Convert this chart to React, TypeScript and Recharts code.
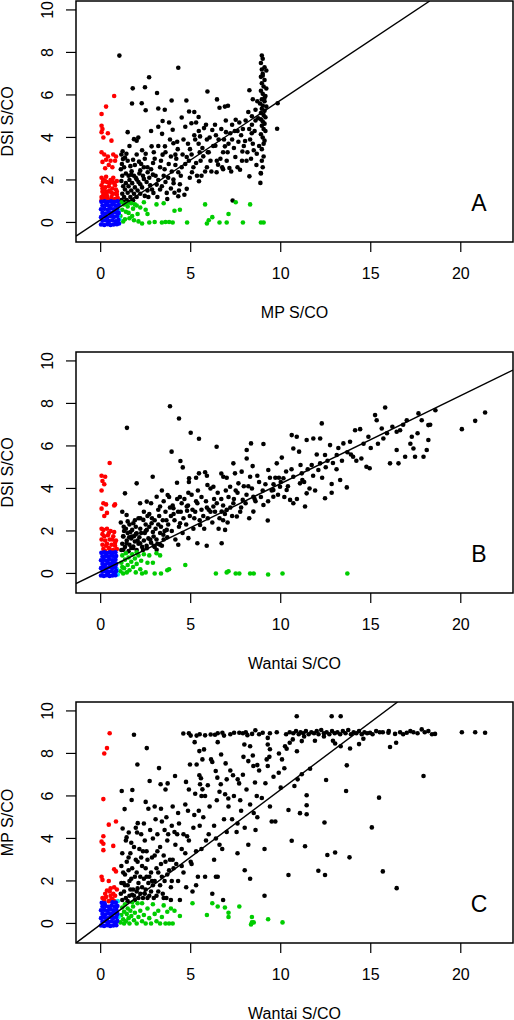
import React from "react";
import {
  ScatterChart,
  Scatter,
  XAxis,
  YAxis,
  ReferenceArea,
} from "recharts";

type Pair = [number, number];

// axis ranges and ticks (R style: 4% padding around xlim / ylim)
const X_DOMAIN: [number, number] = [-1.37, 22.9];
const Y_DOMAIN: [number, number] = [-0.92, 10.42];
const X_TICKS = [0, 5, 10, 15, 20];
const Y_TICKS = [0, 2, 4, 6, 8, 10];

const COLORS = {
  black: "#000000",
  red: "#ff0000",
  blue: "#0000ff",
  green: "#00cd00",
  cyan: "#00e5ee",
};

// ---------- panel A: MP vs DSI ----------
const aBlack: Pair[] = [
  [1.04, 7.85], [4.31, 7.28], [2.69, 6.83], [2.46, 6.36], [1.78, 6.31], [3.13, 6.09], [5.93, 6.16],
  [8.26, 6.22], [3.94, 5.74], [4.76, 5.74], [6.46, 5.79], [2.28, 5.61], [1.74, 5.6], [4.91, 5.22],
  [7.07, 5.49], [6.9, 5.45], [3.2, 5.36], [3.56, 5.3], [2.5, 5.28], [5.44, 4.96], [4.5, 4.94],
  [5.2, 5.2], [6.6, 5.4], [3.44, 4.77], [5.04, 4.67], [5.3, 4.7], [7.5, 4.83], [7.3, 4.6], [7.7, 4.7],
  [5.74, 4.44], [4.0, 4.36], [1.5, 4.25], [6.96, 4.25], [6.2, 4.35], [6.4, 4.1], [2.09, 4.0],
  [2.0, 3.85], [3.41, 4.17], [8.39, 4.2], [8.3, 3.9], [8.02, 3.83], [4.04, 3.73], [5.44, 3.7],
  [1.85, 3.92], [2.83, 3.58], [3.57, 3.58], [4.28, 3.45], [4.96, 3.45], [6.37, 3.61], [6.9, 3.58],
  [7.1, 3.7], [1.43, 3.23], [1.35, 3.05], [2.5, 3.23], [3.44, 3.19], [4.15, 3.19], [4.78, 3.08],
  [5.7, 3.11], [7.48, 3.08], [8.67, 3.23], [8.5, 3.4], [7.87, 3.34], [6.0, 3.3], [6.65, 3.0],
  [2.13, 2.86], [2.91, 2.8], [3.78, 2.75], [5.3, 2.8], [6.52, 2.72], [7.15, 2.56], [7.74, 2.48],
  [1.24, 2.98], [1.72, 2.41], [2.61, 2.36], [4.31, 2.36], [5.07, 2.36], [6.44, 2.36], [6.8, 2.5],
  [5.46, 1.94], [5.6, 2.2], [8.26, 2.17], [8.89, 2.33], [8.87, 1.86], [4.31, 1.23], [3.67, 1.39],
  [2.93, 1.39], [4.78, 1.58], [3.11, 1.78], [4.04, 2.02], [2.0, 2.02], [7.33, 1.03], [9.8, 4.41],
  [9.83, 5.61], [5.52, 4.05], [5.9, 3.9], [4.6, 3.9], [3.9, 3.1], [3.3, 2.6], [2.7, 2.1], [2.2, 1.8],
  [3.5, 2.2], [4.5, 2.6], [4.9, 2.9], [5.9, 2.6], [6.1, 2.9], [3.0, 3.0], [2.4, 2.6], [1.9, 2.7],
  [2.75, 1.75], [3.3, 1.55], [3.9, 1.6], [4.4, 1.8], [4.1, 1.4], [3.6, 1.9], [4.2, 3.0], [5.5, 3.3],
  [7.3, 3.9], [7.9, 4.4], [8.4, 4.6], [8.2, 5.2], [7.6, 4.3], [6.8, 3.3], [8.1, 2.9], [7.0, 2.9],
  [5.2, 4.1], [4.7, 4.5], [3.8, 4.7], [3.2, 4.5], [2.8, 4.3], [2.3, 3.4], [1.6, 3.6], [8.4, 5.0],
  [8.6, 4.8],
  [1.12, 2.5], [1.18, 2.75], [1.15, 3.2], [1.22, 3.35], [1.3, 2.6], [1.5, 2.9], [1.55, 2.2],
  [1.65, 2.65], [1.8, 2.95], [1.85, 2.2], [2.0, 3.2], [2.15, 2.3], [2.25, 2.75], [2.4, 2.05],
  [2.45, 3.0], [2.6, 2.6], [2.65, 1.2], [2.8, 2.5], [2.85, 1.55], [2.95, 3.3], [3.05, 2.2],
  [3.15, 1.2], [3.2, 3.6], [3.35, 2.9], [3.4, 1.7], [3.55, 2.5], [3.6, 3.3], [3.7, 1.1], [3.75, 2.1],
  [3.85, 3.9], [3.95, 2.4], [4.05, 1.85], [4.15, 2.7], [4.25, 3.8], [4.35, 1.5], [4.45, 2.2],
  [4.55, 3.2], [4.65, 1.3], [4.7, 2.75], [4.85, 3.7], [4.95, 2.1], [5.05, 3.2], [5.15, 2.6],
  [5.25, 3.9], [5.35, 2.2], [5.45, 4.3], [5.55, 2.9], [5.65, 3.5], [5.8, 2.4], [5.85, 4.6],
  [5.95, 3.3], [6.05, 4.0], [6.15, 2.4], [6.25, 3.6], [6.35, 4.6], [6.45, 2.9], [6.55, 3.9],
  [6.7, 4.4], [6.75, 2.6], [6.85, 3.9], [6.95, 4.8], [7.05, 3.3], [7.2, 4.2], [7.25, 2.4], [7.4, 3.5],
  [7.45, 4.3], [7.6, 2.6], [7.65, 3.8], [7.8, 4.1], [7.85, 2.9], [7.95, 3.6], [8.05, 4.8], [8.15, 3.3],
  [8.25, 4.4], [8.35, 3.0], [8.45, 3.7], [8.55, 4.3], [8.65, 2.7], [8.75, 4.9], [8.8, 3.6], [8.7, 5.7],
  [8.6, 5.3], [8.45, 5.8],
  // dense block just above 1
  [1.15, 1.05], [1.2, 1.35], [1.25, 1.7], [1.15, 1.95], [1.3, 1.2], [1.35, 1.55], [1.4, 1.85],
  [1.45, 1.05], [1.5, 1.4], [1.55, 1.7], [1.6, 2.0], [1.65, 1.2], [1.7, 1.5], [1.75, 1.85],
  [1.8, 1.05], [1.85, 1.35], [1.9, 1.65], [1.95, 2.1], [2.0, 1.2], [2.05, 1.5], [2.1, 1.9],
  [2.2, 1.35], [2.3, 1.65], [2.35, 2.2], [2.45, 1.25], [2.55, 1.9], [1.2, 2.2], [1.4, 2.3],
  [1.7, 2.25], [1.3, 0.98], [1.6, 0.95], [2.6, 1.5], [2.2, 2.45], [2.9, 2.25], [3.2, 2.0],
  // saturated MP column near 9
  [8.95, 7.85], [9.0, 7.7], [8.9, 7.5], [9.1, 7.3], [8.95, 7.2], [9.2, 7.15], [9.0, 7.0], [8.9, 6.85],
  [9.1, 6.7], [8.95, 6.55], [9.05, 6.4], [9.2, 6.3], [8.9, 6.2], [9.0, 6.05], [9.15, 5.95],
  [8.95, 5.8], [9.1, 5.7], [8.85, 5.6], [9.0, 5.5], [9.2, 5.45], [8.95, 5.35], [9.1, 5.25],
  [8.9, 5.15], [9.05, 5.05], [9.15, 4.95], [8.9, 4.85], [9.0, 4.75], [9.1, 4.65], [8.95, 4.55],
  [9.05, 4.4], [9.15, 4.3], [8.9, 4.15], [9.0, 4.0], [9.1, 3.85], [9.05, 3.7], [8.95, 3.45],
  [9.05, 3.1], [8.95, 2.9], [9.0, 2.6], [8.9, 2.3], [9.1, 5.85], [9.0, 6.9],
];
const aRed: Pair[] = [
  [0.75, 5.95], [0.3, 5.45], [0.05, 5.1], [0.05, 4.55], [0.1, 4.4], [0.05, 4.25], [0.4, 4.2],
  [0.15, 4.0], [0.6, 3.85], [0.05, 3.3], [0.2, 3.2], [0.4, 3.1], [0.7, 3.2], [0.85, 3.1], [0.3, 2.95],
  [0.55, 2.9], [0.1, 2.85], [0.8, 2.9], [0.45, 2.7], [0.25, 2.55], [0.65, 2.6], [0.05, 2.1],
  [0.15, 2.0], [0.35, 1.9], [0.55, 2.0], [0.75, 1.85], [0.9, 1.95], [0.05, 1.75], [0.25, 1.65],
  [0.45, 1.7], [0.65, 1.6], [0.85, 1.55], [0.1, 1.45], [0.3, 1.4], [0.5, 1.5], [0.7, 1.35],
  [0.9, 1.3], [0.05, 1.2], [0.2, 1.15], [0.4, 1.1], [0.6, 1.2], [0.8, 1.1], [0.15, 1.3], [0.35, 1.25],
  [0.55, 1.05], [0.75, 1.05], [0.95, 1.15], [0.05, 1.05],
  [0.12, 1.9], [0.3, 2.15], [0.5, 1.85], [0.7, 2.1], [0.2, 1.55], [0.4, 1.45], [0.6, 1.4],
  [0.8, 1.75], [0.1, 1.6], [0.9, 1.45], [0.25, 1.95], [0.65, 1.95],
];
const aBlue: Pair[] = [
  [0.02, -0.1], [0.2, -0.12], [0.38, -0.08], [0.55, -0.12], [0.72, -0.1], [0.9, -0.08], [1.02, -0.05],
  [0.1, 0.08], [0.28, 0.1], [0.46, 0.06], [0.64, 0.1], [0.82, 0.05], [0.98, 0.12],
  [0.02, 0.25], [0.2, 0.28], [0.38, 0.24], [0.56, 0.3], [0.74, 0.26], [0.92, 0.3],
  [0.1, 0.45], [0.28, 0.42], [0.46, 0.48], [0.64, 0.44], [0.82, 0.48], [1.0, 0.45],
  [0.02, 0.62], [0.2, 0.64], [0.38, 0.6], [0.56, 0.66], [0.74, 0.62], [0.92, 0.65],
  [0.1, 0.8], [0.28, 0.82], [0.46, 0.78], [0.64, 0.84], [0.82, 0.8], [1.0, 0.82],
  [0.04, 0.97], [0.22, 1.0], [0.4, 0.96], [0.58, 1.0], [0.76, 0.97], [0.94, 1.0],
];
const aGreen: Pair[] = [
  [1.1, 0.3], [1.2, 0.6], [1.3, 0.85], [1.4, 0.5], [1.5, 0.75], [1.6, 0.2], [1.7, 0.9], [1.8, 0.65],
  [1.9, 0.85], [2.0, 0.8], [2.1, 0.05], [2.3, -0.05], [2.4, 0.95], [2.5, 0.6], [2.6, 0.4], [2.7, 0.0],
  [3.0, 0.02], [3.1, 0.85], [3.4, 0.0], [3.5, 0.9], [3.6, 0.02], [3.8, 0.02], [4.0, 0.0], [4.1, 0.55],
  [4.4, 0.6], [4.8, 0.0], [5.8, 0.85], [5.9, -0.05], [6.0, 0.1], [6.2, 0.25], [6.6, 0.0], [7.0, 0.0],
  [7.1, 0.4], [7.5, 0.95], [7.9, 0.0], [8.3, 0.85], [8.9, 0.0], [9.05, 0.0], [1.15, 0.95],
  [1.35, 0.15], [1.25, 0.05], [1.55, 0.45], [1.75, 0.3], [2.2, 0.7], [1.45, 0.9], [1.85, 0.1],
  [2.05, 0.4],
];
const aCyan: Pair[] = [[1.0, 0.35], [1.05, 0.15], [0.98, 0.55]];

// ---------- panel B: Wantai vs DSI ----------
const bBlack: Pair[] = [
  [3.85, 7.87], [4.35, 7.29], [1.46, 6.85], [5.0, 6.62], [5.46, 6.34], [6.44, 5.96], [3.94, 5.73],
  [4.43, 5.29], [4.56, 4.99], [2.89, 4.55], [2.0, 4.24], [1.35, 3.77], [4.24, 4.27], [4.91, 4.48],
  [5.46, 4.71], [5.8, 4.76], [5.93, 4.16], [4.87, 3.8], [3.72, 3.69], [3.11, 3.61], [2.56, 3.38],
  [2.19, 3.3], [3.3, 3.15], [4.04, 3.07], [4.78, 3.15], [5.37, 3.3], [6.26, 3.15], [7.0, 2.99],
  [7.37, 3.3], [7.89, 3.46], [8.48, 3.61], [9.04, 3.22], [9.28, 2.49], [8.48, 2.91], [7.56, 2.68],
  [6.72, 2.91], [6.91, 2.05], [6.72, 1.42], [5.89, 1.3], [5.37, 1.42], [4.87, 1.66], [4.31, 1.35],
  [5.52, 2.28], [4.41, 2.36], [3.67, 2.05], [2.83, 2.36], [2.37, 2.52], [2.94, 1.74], [3.48, 1.82],
  [2.56, 2.05], [1.81, 2.36], [1.44, 2.75], [1.72, 1.74], [2.19, 1.42], [1.44, 1.42], [1.26, 1.74],
  [1.26, 1.11], [1.81, 1.27], [2.56, 1.19], [3.11, 1.11], [3.3, 1.35], [2.0, 1.89], [7.65, 4.24],
  [8.3, 4.55], [7.83, 4.79], [7.37, 5.18], [8.11, 5.41], [8.44, 5.05], [7.46, 4.71], [6.81, 4.55],
  [7.19, 4.08], [6.26, 4.08], [8.35, 6.12], [9.04, 6.09], [8.11, 5.81], [9.31, 4.87], [9.78, 5.18],
  [10.06, 5.45], [10.61, 6.51], [10.89, 6.43], [10.7, 5.88], [11.02, 5.73], [11.44, 6.28],
  [11.81, 6.35], [12.28, 7.06], [12.19, 6.35], [12.74, 6.04], [12.46, 5.57], [13.11, 5.57],
  [13.48, 6.12], [13.85, 6.2], [14.13, 6.74], [14.41, 6.79], [14.02, 5.49], [14.48, 5.41],
  [14.76, 5.02], [14.94, 4.95], [14.87, 6.43], [15.24, 7.45], [15.33, 7.21], [15.8, 7.81],
  [15.61, 6.82], [15.7, 6.35], [16.07, 5.18], [16.44, 6.67], [16.63, 6.74], [16.44, 5.81],
  [16.54, 5.18], [16.91, 5.49], [17.0, 7.21], [17.28, 6.43], [17.37, 5.88], [17.46, 5.49],
  [17.65, 7.53], [17.83, 7.21], [17.93, 5.49], [18.2, 6.98], [18.2, 6.28], [18.11, 5.81],
  [18.59, 7.68], [20.06, 6.79], [20.8, 7.18], [21.35, 7.57], [13.67, 4.05], [13.3, 4.4],
  [12.83, 4.21], [12.83, 3.8], [12.46, 3.54], [11.91, 3.9], [11.35, 3.15], [11.44, 3.77],
  [11.07, 4.24], [10.7, 3.3], [10.52, 3.46], [10.7, 4.55], [11.17, 4.71], [11.72, 5.1], [12.09, 4.87],
  [12.19, 5.18], [10.15, 4.48], [9.96, 4.08], [9.59, 3.93], [9.59, 3.61], [10.33, 3.93],
  [11.2, 4.4], [11.5, 4.9], [12.6, 5.3], [13.2, 5.9], [13.9, 5.6], [10.3, 4.8], [9.9, 4.5],
  [1.12, 2.4], [1.2, 2.9], [1.28, 2.2], [1.4, 2.1], [1.5, 2.45], [1.58, 1.7], [1.65, 1.95],
  [1.7, 1.2], [1.85, 1.75], [1.95, 2.2], [2.05, 1.55], [2.1, 2.6], [2.25, 1.9], [2.35, 1.1],
  [2.5, 2.0], [2.6, 2.7], [2.75, 1.6], [2.85, 2.6], [2.95, 1.3], [3.05, 2.1], [3.15, 1.4],
  [3.25, 2.7], [3.35, 2.2], [3.4, 1.3], [3.55, 2.0], [3.65, 2.5], [3.7, 1.7], [3.85, 3.1],
  [3.95, 2.0], [4.05, 2.8], [4.15, 1.6], [4.25, 3.5], [4.35, 2.2], [4.45, 2.9], [4.55, 1.9],
  [4.65, 3.5], [4.75, 2.3], [4.85, 3.2], [4.95, 2.7], [5.05, 3.7], [5.15, 2.1], [5.25, 2.9],
  [5.4, 3.9], [5.5, 2.5], [5.6, 3.0], [5.75, 2.1], [5.85, 3.4], [5.95, 2.6], [6.1, 4.0], [6.2, 2.4],
  [6.35, 2.9], [6.45, 3.3], [6.55, 2.1], [6.7, 3.5], [6.8, 2.5], [6.95, 3.9], [7.05, 2.4], [7.2, 3.1],
  [7.4, 3.5], [7.6, 3.8], [7.75, 2.9], [7.95, 4.1], [8.05, 3.3], [8.25, 2.6], [8.4, 4.0], [8.55, 3.5],
  [8.7, 4.6], [8.9, 3.6], [9.15, 4.2], [9.3, 3.4], [9.5, 3.9], [9.7, 4.5], [9.85, 3.7], [10.0, 4.3],
  [10.2, 3.6], [10.4, 4.1], [10.6, 4.9], [10.9, 3.5], [11.1, 5.1], [11.3, 4.3], [11.6, 4.0],
  [11.8, 4.6], [12.0, 5.6], [12.3, 4.5], [12.5, 5.0], [12.9, 5.2], [13.1, 4.9], [13.4, 5.3],
  [13.7, 5.7], [14.2, 5.3], [14.6, 6.1], [15.0, 5.9], [15.4, 6.1], [15.9, 6.6], [16.2, 6.9],
  [16.8, 7.0], [17.2, 6.1], [17.6, 6.6], [18.3, 7.0],
  // dense low band
  [1.15, 1.1], [1.2, 1.4], [1.25, 1.75], [1.3, 2.0], [1.35, 1.25], [1.45, 1.55], [1.5, 1.9],
  [1.55, 1.05], [1.6, 1.35], [1.7, 1.65], [1.75, 2.05], [1.8, 1.2], [1.9, 1.5], [1.95, 1.85],
  [2.0, 1.1], [2.1, 1.4], [2.15, 1.7], [2.2, 2.1], [2.3, 1.25], [2.4, 1.55], [2.45, 1.9], [2.55, 1.3],
  [2.65, 1.65], [2.7, 2.2], [2.8, 1.45], [2.9, 1.95], [3.0, 1.25], [3.1, 1.6], [3.2, 2.3], [3.3, 1.9],
  [3.45, 2.5], [3.5, 1.6], [3.6, 2.9], [3.75, 2.3], [3.9, 2.7], [4.0, 3.2], [4.1, 2.5], [4.3, 2.9],
  [4.5, 3.3], [4.6, 2.6], [4.8, 2.95], [5.1, 3.0], [5.2, 2.6], [5.3, 3.4], [5.6, 3.6], [5.7, 2.7],
  [5.9, 3.1], [6.1, 2.9], [6.3, 3.5], [6.5, 3.8], [6.6, 2.6], [6.9, 2.8], [7.1, 3.6], [7.3, 2.7],
  [7.5, 3.9], [7.8, 3.1], [8.1, 3.7], [8.2, 4.1], [8.6, 3.4], [8.8, 4.3], [9.0, 3.9], [9.4, 4.5],
  [9.6, 4.2], [2.2, 2.6], [2.5, 2.3], [2.7, 2.8], [3.0, 2.5], [3.2, 3.0], [1.6, 2.3], [1.9, 2.5],
  [2.4, 2.9], [2.8, 3.3], [3.5, 3.4], [6.0, 3.0], [6.8, 3.2], [7.0, 4.5], [6.7, 4.7], [5.9, 4.6],
  [5.3, 4.5], [4.9, 4.3], [4.4, 3.6], [3.8, 3.6], [3.4, 3.9],
];
const bRed: Pair[] = [
  [0.5, 5.2], [0.05, 4.6], [0.25, 4.55], [0.1, 4.35], [0.2, 4.2], [0.05, 3.9], [0.15, 3.3],
  [0.3, 3.25], [0.8, 3.25], [0.75, 3.2], [0.05, 3.05], [0.35, 2.85], [0.2, 2.7], [0.05, 2.1],
  [0.15, 2.05], [0.35, 2.1], [0.55, 2.0], [0.75, 1.95], [0.1, 1.85], [0.4, 1.8], [0.7, 1.75],
  [0.05, 1.6], [0.25, 1.55], [0.5, 1.6], [0.85, 1.55], [0.1, 1.35], [0.35, 1.4], [0.6, 1.35],
  [0.8, 1.3], [0.15, 1.15], [0.45, 1.2], [0.7, 1.1], [0.9, 1.15], [0.25, 1.05], [0.55, 1.05],
  [0.2, 1.75], [0.45, 1.9], [0.65, 1.6], [0.3, 1.3], [0.5, 1.15], [0.8, 1.45],
];
const bBlue: Pair[] = [
  [0.02, -0.1], [0.18, -0.12], [0.34, -0.08], [0.5, -0.12], [0.66, -0.1], [0.82, -0.08],
  [0.1, 0.08], [0.26, 0.1], [0.42, 0.06], [0.58, 0.1], [0.74, 0.05], [0.86, 0.12],
  [0.02, 0.25], [0.18, 0.28], [0.34, 0.24], [0.5, 0.3], [0.66, 0.26], [0.82, 0.3],
  [0.1, 0.45], [0.26, 0.42], [0.42, 0.48], [0.58, 0.44], [0.74, 0.48], [0.86, 0.45],
  [0.02, 0.62], [0.18, 0.64], [0.34, 0.6], [0.5, 0.66], [0.66, 0.62], [0.82, 0.65],
  [0.1, 0.8], [0.26, 0.82], [0.42, 0.78], [0.58, 0.84], [0.74, 0.8], [0.86, 0.82],
  [0.04, 0.97], [0.2, 1.0], [0.36, 0.96], [0.52, 1.0], [0.68, 0.97], [0.82, 1.0],
];
const bGreen: Pair[] = [
  [1.1, 0.1], [1.15, 0.5], [1.2, 0.85], [1.3, 0.25], [1.35, 0.65], [1.4, 0.95], [1.45, 0.05],
  [1.5, 0.4], [1.55, 0.75], [1.6, 0.15], [1.7, 0.55], [1.75, 0.9], [1.8, 0.3], [1.9, 0.7],
  [1.95, 0.05], [2.0, 0.45], [2.1, 0.85], [2.2, 0.2], [2.25, 0.6], [2.4, 0.9], [2.5, 0.05],
  [2.6, 0.5], [2.7, 0.85], [2.9, 0.5], [3.0, 0.0], [3.1, 0.95], [3.3, 0.85], [3.35, 0.0],
  [3.7, 0.15], [3.8, 0.2], [4.7, 0.4], [6.4, 0.0], [7.0, 0.05], [7.1, 0.1], [7.5, 0.0], [7.7, 0.0],
  [8.3, 0.0], [8.5, 0.0], [9.3, -0.05], [10.1, 0.0], [13.7, 0.0], [2.3, 0.0], [1.25, 0.0],
  [2.0, 1.0], [1.2, 0.3],
];
const bCyan: Pair[] = [[0.9, 0.2], [0.95, -0.05]];

// ---------- panel C: Wantai vs MP ----------
const cBlack: Pair[] = [
  [1.85, 8.88], [2.56, 8.25], [2.04, 7.48], [1.17, 6.23], [1.76, 6.28], [1.72, 5.81], [1.33, 5.38],
  [1.22, 4.47], [1.56, 4.28], [2.06, 4.72], [2.02, 4.28], [1.44, 4.05], [2.5, 5.72], [2.72, 6.7],
  [3.24, 7.31], [3.33, 6.55], [3.72, 6.59], [4.13, 6.94], [4.74, 6.66], [4.59, 8.94], [5.0, 8.84],
  [5.33, 8.84], [5.22, 8.53], [5.48, 8.11], [5.74, 8.19], [5.65, 7.72], [6.13, 7.72], [4.96, 7.48],
  [5.33, 7.48], [5.48, 6.97], [5.57, 6.83], [5.52, 6.55], [5.65, 6.31], [5.8, 6.0], [6.11, 8.89],
  [6.35, 8.88], [6.76, 8.97], [6.85, 8.84], [6.5, 8.53], [6.69, 7.95], [6.94, 7.53], [6.39, 7.17],
  [6.48, 6.86], [6.67, 6.55], [7.0, 6.78], [6.91, 6.08], [7.09, 5.88], [7.35, 6.97], [7.61, 6.78],
  [7.69, 6.59], [7.41, 8.97], [7.7, 8.97], [8.06, 9.0], [8.41, 8.92], [8.59, 9.09], [9.0, 8.97],
  [8.15, 8.86], [7.98, 8.42], [8.3, 8.34], [7.93, 7.84], [8.2, 7.64], [8.48, 7.41], [8.7, 7.45],
  [8.57, 6.63], [8.67, 6.0], [9.28, 8.73], [9.28, 8.42], [9.22, 7.72], [9.28, 7.41], [9.78, 9.0],
  [9.37, 7.84], [9.89, 7.09], [10.07, 7.72], [10.0, 6.39], [10.24, 8.34], [10.33, 8.22],
  [10.89, 9.75], [12.83, 9.75], [13.33, 9.75], [10.67, 8.66], [11.17, 8.58], [10.76, 6.47],
  [10.94, 6.78], [11.17, 7.02], [11.63, 7.28], [11.44, 6.03], [11.44, 5.56], [11.44, 5.14],
  [11.07, 5.19], [10.43, 5.34], [10.61, 3.89], [11.35, 3.63], [10.43, 2.28], [12.09, 2.48],
  [12.46, 2.28], [12.43, 4.75], [12.52, 6.75], [12.59, 3.22], [13.02, 3.34], [13.82, 3.11],
  [13.63, 6.23], [13.67, 7.44], [13.85, 8.23], [14.35, 8.44], [14.59, 8.69], [15.06, 4.52],
  [15.46, 5.92], [15.67, 2.45], [16.44, 1.66], [16.07, 8.3], [16.41, 8.5], [17.93, 6.94],
  [20.06, 9.0], [20.8, 9.0], [21.35, 8.97], [18.57, 8.92], [18.2, 9.05], [17.83, 9.13],
  [17.37, 9.0], [17.0, 8.97], [16.63, 9.0], [16.35, 8.92], [15.98, 8.97], [15.67, 9.0], [15.3, 9.05],
  [14.96, 8.97], [13.02, 8.47], [13.33, 8.34],
  // saturated MP band near 9
  [10.7, 8.95], [10.85, 9.05], [11.0, 8.9], [11.1, 9.0], [11.25, 8.95], [11.4, 9.05], [11.55, 8.9],
  [11.7, 9.0], [11.85, 8.95], [12.0, 9.05], [12.1, 8.9], [12.25, 9.1], [12.4, 8.95], [12.55, 9.0],
  [12.7, 8.9], [12.85, 9.05], [13.0, 8.95], [13.15, 9.0], [13.3, 8.9], [13.45, 9.05], [13.6, 8.95],
  [13.75, 9.1], [13.9, 8.9], [14.05, 9.0], [14.2, 8.95], [14.35, 9.05], [14.5, 8.9], [14.65, 9.0],
  [14.8, 8.95], [17.6, 8.95], [18.0, 9.0], [4.9, 8.95], [5.5, 8.9], [5.8, 8.85], [6.5, 8.95],
  [7.2, 8.9], [7.9, 8.95], [8.8, 8.9], [9.4, 8.95], [10.3, 8.9], [10.5, 9.0], [15.1, 8.9],
  [15.5, 9.0], [16.0, 9.05], [16.8, 8.9], [17.2, 9.05], [18.4, 8.9],
  // dense lower left cloud
  [1.2, 1.1], [1.3, 1.5], [1.4, 1.2], [1.5, 1.8], [1.6, 1.3], [1.7, 2.1], [1.8, 1.6], [1.9, 1.1],
  [2.0, 2.4], [2.1, 1.9], [2.2, 1.4], [2.3, 2.7], [2.4, 2.1], [2.5, 1.6], [2.6, 3.0], [2.7, 1.3],
  [2.8, 2.4], [2.9, 1.8], [3.0, 3.2], [3.1, 2.6], [3.2, 1.5], [3.3, 3.6], [3.4, 2.2], [3.5, 1.2],
  [3.6, 2.9], [3.7, 3.9], [3.8, 2.5], [3.9, 1.7], [4.0, 3.0], [4.1, 4.3], [4.2, 2.8], [4.4, 1.1],
  [4.5, 3.5], [4.6, 2.4], [4.8, 4.1], [5.0, 2.9], [5.1, 1.5], [5.3, 3.4], [5.5, 4.6], [5.4, 2.2],
  [1.25, 2.4], [1.45, 2.9], [1.65, 3.3], [1.85, 3.6], [2.15, 3.5], [2.45, 3.9], [2.75, 4.4],
  [3.05, 4.9], [3.35, 5.4], [3.65, 5.0], [3.95, 4.6], [4.25, 4.2], [4.7, 5.6], [5.2, 5.1],
  [5.6, 6.0], [4.9, 6.3], [6.0, 4.2], [6.3, 3.0], [6.5, 2.2], [6.8, 1.1], [6.2, 1.4], [7.0, 4.3],
  [7.3, 4.9], [7.6, 4.7], [7.8, 5.3], [8.0, 4.5], [8.2, 3.7], [8.3, 2.1], [8.5, 5.2], [8.7, 5.0],
  [9.1, 3.5], [9.1, 1.3], [9.4, 5.5], [9.5, 4.8], [9.7, 4.8], [8.0, 2.5], [7.6, 3.3], [6.6, 3.7],
  [6.4, 4.0], [5.8, 2.2], [6.4, 2.2], [1.35, 1.8], [1.55, 2.5], [1.75, 1.35], [2.05, 1.65],
  [2.35, 1.2], [2.55, 2.2], [2.85, 2.0], [3.15, 3.4], [2.65, 1.9], [1.15, 1.9], [1.95, 3.0],
  [2.25, 3.1], [3.55, 4.4], [4.3, 5.2], [4.0, 5.5], [3.6, 6.3], [3.0, 5.5], [2.4, 4.7],
  [1.12, 1.4], [1.15, 2.7], [1.2, 3.3], [1.28, 1.9], [1.35, 2.3], [1.4, 3.9], [1.5, 1.05],
  [1.55, 3.1], [1.6, 2.0], [1.65, 1.6], [1.7, 3.8], [1.75, 2.6], [1.85, 1.3], [1.9, 2.2], [1.95, 4.5],
  [2.0, 1.5], [2.05, 2.9], [2.1, 1.2], [2.2, 2.2], [2.25, 4.2], [2.3, 1.7], [2.35, 3.4], [2.45, 1.4],
  [2.5, 2.6], [2.55, 3.4], [2.6, 1.2], [2.65, 5.4], [2.7, 2.2], [2.8, 1.5], [2.85, 3.1], [2.9, 4.0],
  [2.95, 1.2], [3.0, 2.0], [3.1, 1.3], [3.15, 4.2], [3.2, 2.4], [3.3, 1.8], [3.35, 2.8], [3.4, 4.8],
  [3.45, 1.4], [3.5, 3.2], [3.55, 2.0], [3.65, 1.2], [3.7, 2.3], [3.75, 4.2], [3.85, 3.0], [3.9, 1.1],
  [3.95, 2.0], [4.05, 2.6], [4.15, 3.7], [4.3, 2.0], [4.35, 4.7], [4.5, 2.7], [4.6, 4.2], [4.7, 3.3],
  [4.75, 1.7], [4.85, 5.3], [4.9, 3.9], [5.05, 2.8], [5.15, 4.5], [5.25, 6.1], [5.3, 1.8], [5.45, 5.3],
  [5.6, 3.5], [5.7, 5.0], [5.85, 3.9], [5.95, 6.5], [6.05, 5.5], [6.2, 7.6], [6.3, 4.6], [6.45, 5.8],
  [6.6, 6.2], [6.75, 3.5], [6.85, 4.9], [7.1, 5.5], [7.2, 7.2], [7.4, 6.0], [7.55, 4.3], [7.75, 5.8],
  [7.9, 7.0], [8.1, 6.3], [8.3, 5.6], [8.45, 7.9], [8.6, 4.4], [8.8, 7.2], [8.95, 5.9], [9.15, 6.6],
  [9.4, 8.2], [9.6, 6.9], [9.9, 8.0], [10.2, 7.3], [10.5, 8.5], [10.9, 8.1], [11.3, 8.8],
  [11.9, 8.6], [12.4, 8.8], [12.9, 8.6],
];
const cRed: Pair[] = [
  [0.5, 8.95], [0.35, 8.25], [0.2, 8.0], [0.15, 5.85], [0.45, 4.65], [0.85, 4.8], [0.15, 4.1],
  [0.05, 3.85], [0.15, 3.75], [0.15, 3.45], [0.7, 3.65], [0.75, 2.55], [0.85, 2.45], [0.05, 2.2],
  [0.1, 2.05], [0.45, 2.0], [0.55, 1.65], [0.75, 1.7], [0.9, 1.6], [0.35, 1.55], [0.1, 1.2],
  [0.3, 1.25], [0.55, 1.3], [0.8, 1.3], [0.2, 1.1], [0.65, 1.15], [0.45, 1.05], [0.75, 1.05],
  [0.25, 1.4], [0.5, 1.5], [0.7, 1.4], [0.6, 1.15],
];
const cBlue: Pair[] = [
  [0.02, -0.1], [0.19, -0.12], [0.36, -0.08], [0.53, -0.12], [0.7, -0.1], [0.87, -0.08],
  [0.1, 0.08], [0.27, 0.1], [0.44, 0.06], [0.61, 0.1], [0.78, 0.05], [0.92, 0.12],
  [0.02, 0.25], [0.19, 0.28], [0.36, 0.24], [0.53, 0.3], [0.7, 0.26], [0.87, 0.3],
  [0.1, 0.45], [0.27, 0.42], [0.44, 0.48], [0.61, 0.44], [0.78, 0.48], [0.93, 0.45],
  [0.02, 0.62], [0.19, 0.64], [0.36, 0.6], [0.53, 0.66], [0.7, 0.62], [0.87, 0.65],
  [0.1, 0.8], [0.27, 0.82], [0.44, 0.78], [0.61, 0.84], [0.78, 0.8], [0.93, 0.82],
  [0.06, 0.97], [0.22, 0.95], [0.66, 1.0], [0.84, 0.98],
];
const cGreen: Pair[] = [
  [1.1, 0.05], [1.15, 0.4], [1.2, 0.75], [1.25, 0.2], [1.3, 0.55], [1.35, 0.9], [1.4, 0.1],
  [1.45, 0.45], [1.5, 0.7], [1.55, 0.25], [1.6, 0.0], [1.65, 0.6], [1.7, 0.35], [1.8, 0.8],
  [1.85, 0.15], [1.9, 0.5], [2.0, 0.0], [2.05, 0.95], [2.1, 0.3], [2.2, 0.6], [2.3, 0.1], [2.4, 0.4],
  [2.5, 0.0], [2.6, 0.7], [2.7, 0.25], [2.8, 0.0], [2.9, 0.9], [3.0, 0.45], [3.1, 0.1], [3.2, 0.6],
  [3.3, 0.0], [3.4, 0.3], [3.5, 0.85], [3.6, 0.0], [3.7, 0.55], [3.8, 0.0], [3.9, 0.7], [4.0, 0.0],
  [4.1, 0.6], [4.4, 0.35], [5.1, 0.95], [5.9, 0.4], [6.2, 0.95], [6.5, 0.8], [6.9, 0.75], [7.1, 0.5],
  [7.1, 0.3], [7.7, 0.8], [8.4, 0.3], [8.4, 0.05], [8.5, 0.05], [8.35, -0.05], [9.3, 0.2],
  [10.1, 0.05], [1.3, 0.0], [1.75, 1.0], [2.3, 0.95],
];
const cCyan: Pair[] = [[0.95, 1.05], [1.0, 0.3]];

// regression lines: [intercept, slope]
const aFit: Pair = [0.13, 0.563];
const bFit: Pair = [0.09, 0.414];
const cFit: Pair = [-0.05, 0.635];

const toPts = (arr: Pair[]) => arr.map(([x, y]) => ({ x, y }));

function fitSegment([a, b]: Pair) {
  let x0 = X_DOMAIN[0];
  let y0 = a + b * x0;
  if (y0 < Y_DOMAIN[0]) {
    x0 = (Y_DOMAIN[0] - a) / b;
    y0 = Y_DOMAIN[0];
  }
  let x1 = X_DOMAIN[1];
  let y1 = a + b * x1;
  if (y1 > Y_DOMAIN[1]) {
    x1 = (Y_DOMAIN[1] - a) / b;
    y1 = Y_DOMAIN[1];
  }
  return [{ x: x0, y: y0 }, { x: x1, y: y1 }];
}

const FONT = "'Liberation Sans', Arial, Helvetica, sans-serif";

const dot = (color: string) => (p: any) => (
  <circle cx={p.cx} cy={p.cy} r={2.3} fill={color} />
);

function XTick(props: any) {
  const { x, y, payload } = props;
  return (
    <text x={x} y={y} dy={25} textAnchor="middle" fontSize={16} fontFamily={FONT} fill="#000">
      {payload.value}
    </text>
  );
}

function YTick(props: any) {
  const { y, payload } = props;
  return (
    <text
      x={53}
      y={y}
      transform={`rotate(-90 53 ${y})`}
      textAnchor="middle"
      fontSize={16}
      fontFamily={FONT}
      fill="#000"
    >
      {payload.value}
    </text>
  );
}

interface PanelProps {
  top: number;
  black: Pair[];
  red: Pair[];
  blue: Pair[];
  green: Pair[];
  cyan: Pair[];
  fit: Pair;
  xTitle: string;
  yTitle: string;
  letter: string;
}

function Panel({ top, black, red, blue, green, cyan, fit, xTitle, yTitle, letter }: PanelProps) {
  return (
    <div style={{ position: "absolute", left: 0, top }}>
      <ScatterChart width={514} height={330} margin={{ top: 1, right: 1, bottom: 0, left: 0 }}>
        <XAxis
          type="number"
          dataKey="x"
          domain={X_DOMAIN}
          ticks={X_TICKS}
          allowDataOverflow
          axisLine={false}
          tickSize={10}
          tickLine={{ stroke: "#000", strokeWidth: 1.2 }}
          tick={<XTick />}
          height={88}
          label={{
            content: () => (
              <text x={294.5} y={318} textAnchor="middle" fontSize={16} fontFamily={FONT} fill="#000">
                {xTitle}
              </text>
            ),
          }}
        />
        <YAxis
          type="number"
          dataKey="y"
          domain={Y_DOMAIN}
          ticks={Y_TICKS}
          allowDataOverflow
          axisLine={false}
          width={76}
          tickSize={10}
          tickLine={{ stroke: "#000", strokeWidth: 1.2 }}
          tick={<YTick />}
          label={{
            content: () => (
              <g>
                <text
                  x={13}
                  y={121.5}
                  transform="rotate(-90 13 121.5)"
                  textAnchor="middle"
                  fontSize={16}
                  fontFamily={FONT}
                  fill="#000"
                >
                  {yTitle}
                </text>
                <text x={479} y={211} textAnchor="middle" fontSize={23} fontFamily={FONT} fill="#000">
                  {letter}
                </text>
              </g>
            ),
          }}
        />
        <Scatter data={toPts(black)} shape={dot(COLORS.black)} isAnimationActive={false} />
        <Scatter data={toPts(red)} shape={dot(COLORS.red)} isAnimationActive={false} />
        <Scatter data={toPts(green)} shape={dot(COLORS.green)} isAnimationActive={false} />
        <Scatter data={toPts(cyan)} shape={dot(COLORS.cyan)} isAnimationActive={false} />
        <Scatter data={toPts(blue)} shape={dot(COLORS.blue)} isAnimationActive={false} />
        <Scatter
          data={fitSegment(fit)}
          line={{ stroke: "#000", strokeWidth: 1.4 }}
          shape={() => <g />}
          isAnimationActive={false}
        />
        <ReferenceArea
          x1={X_DOMAIN[0]}
          x2={X_DOMAIN[1]}
          y1={Y_DOMAIN[0]}
          y2={Y_DOMAIN[1]}
          fill="none"
          fillOpacity={0}
          stroke="#000"
          strokeWidth={1.5}
        />
      </ScatterChart>
    </div>
  );
}

export default function App() {
  return (
    <div style={{ position: "absolute", left: 0, top: 0, width: 514, height: 1020, background: "#fff" }}>
      <Panel top={0} black={aBlack} red={aRed} blue={aBlue} green={aGreen} cyan={aCyan} fit={aFit}
        xTitle="MP S/CO" yTitle="DSI S/CO" letter="A" />
      <Panel top={351} black={bBlack} red={bRed} blue={bBlue} green={bGreen} cyan={bCyan} fit={bFit}
        xTitle="Wantai S/CO" yTitle="DSI S/CO" letter="B" />
      <Panel top={701} black={cBlack} red={cRed} blue={cBlue} green={cGreen} cyan={cCyan} fit={cFit}
        xTitle="Wantai S/CO" yTitle="MP S/CO" letter="C" />
    </div>
  );
}
